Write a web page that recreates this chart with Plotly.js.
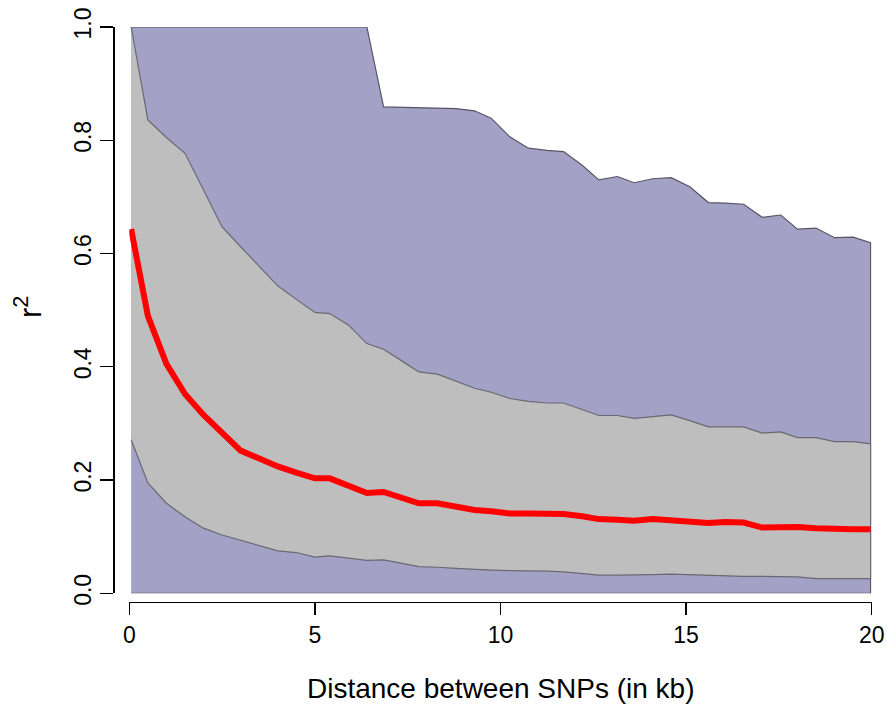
<!DOCTYPE html>
<html>
<head>
<meta charset="utf-8">
<script src="https://cdn.plot.ly/plotly-3.0.1.min.js"></script>
<style>html,body{margin:0;padding:0;background:#fff;}#chart{width:887px;height:707px;}</style>
</head>
<body>
<div id="chart"></div>
<script>
// Distance between SNPs (kb)
const distanceKb = [0.05, 0.5, 1.0, 1.5, 2.0, 2.5, 3.0, 3.5, 4.0, 4.5, 5.0, 5.4, 5.9, 6.4, 6.85, 7.35, 7.8, 8.3, 8.8, 9.3, 9.75, 10.25, 10.75, 11.25, 11.7, 12.2, 12.65, 13.15, 13.6, 14.1, 14.6, 15.1, 15.6, 16.05, 16.55, 17.05, 17.55, 18.0, 18.5, 19.0, 19.5, 19.97];
// r^2 envelope: minimum / maximum
const r2Min = [0, 0, 0, 0, 0, 0, 0, 0, 0, 0, 0, 0, 0, 0, 0, 0, 0, 0, 0, 0, 0, 0, 0, 0, 0, 0, 0, 0, 0, 0, 0, 0, 0, 0, 0, 0, 0, 0, 0, 0, 0, 0];
const r2Max = [1.0, 1.0, 1.0, 1.0, 1.0, 1.0, 1.0, 1.0, 1.0, 1.0, 1.0, 1.0, 1.0, 1.0, 0.859, 0.858, 0.858, 0.857, 0.856, 0.852, 0.839, 0.806, 0.786, 0.782, 0.780, 0.756, 0.730, 0.736, 0.725, 0.732, 0.734, 0.718, 0.690, 0.689, 0.687, 0.664, 0.668, 0.643, 0.645, 0.628, 0.629, 0.619];
// r^2 inner band: lower / upper quantile
const r2Low = [0.271, 0.195, 0.159, 0.135, 0.115, 0.103, 0.093, 0.084, 0.075, 0.072, 0.064, 0.066, 0.062, 0.058, 0.059, 0.053, 0.047, 0.046, 0.044, 0.042, 0.041, 0.040, 0.039, 0.039, 0.038, 0.035, 0.032, 0.032, 0.032, 0.033, 0.034, 0.032, 0.031, 0.031, 0.030, 0.030, 0.030, 0.029, 0.026, 0.026, 0.026, 0.026];
const r2High = [1.0, 0.836, 0.805, 0.777, 0.712, 0.647, 0.612, 0.577, 0.543, 0.519, 0.496, 0.494, 0.474, 0.441, 0.431, 0.410, 0.391, 0.387, 0.375, 0.362, 0.355, 0.344, 0.339, 0.336, 0.336, 0.325, 0.314, 0.314, 0.309, 0.312, 0.315, 0.305, 0.294, 0.294, 0.294, 0.283, 0.285, 0.275, 0.275, 0.268, 0.268, 0.264];
// median r^2
const r2Median = [0.643, 0.490, 0.405, 0.352, 0.315, 0.285, 0.252, 0.238, 0.224, 0.213, 0.203, 0.203, 0.191, 0.177, 0.179, 0.169, 0.159, 0.159, 0.152, 0.147, 0.145, 0.141, 0.141, 0.141, 0.140, 0.136, 0.131, 0.130, 0.128, 0.131, 0.128, 0.127, 0.124, 0.126, 0.125, 0.116, 0.117, 0.117, 0.115, 0.113, 0.113, 0.113];

const xTicks = [0, 5, 10, 15, 20];
const yTicks = [0, 0.2, 0.4, 0.6, 0.8, 1.0];
const yTickText = ["0.0", "0.2", "0.4", "0.6", "0.8", "1.0"];

function band(lo, hi) {
  const xs = distanceKb.concat(distanceKb.slice().reverse());
  const ys = hi.concat(lo.slice().reverse());
  return {xs: xs, ys: ys};
}
const outer = band(r2Min, r2Max);
const inner = band(r2Low, r2High);

const traces = [
  {x: outer.xs, y: outer.ys, type: 'scatter', mode: 'lines', fill: 'toself',
   fillcolor: 'rgb(163,162,198)', line: {color: 'rgb(85,85,100)', width: 1.2}, hoverinfo: 'skip'},
  {x: inner.xs, y: inner.ys, type: 'scatter', mode: 'lines', fill: 'toself',
   fillcolor: 'rgb(190,190,190)', line: {color: 'rgb(105,105,115)', width: 1.2}, hoverinfo: 'skip'},
  {x: distanceKb, y: r2Median, type: 'scatter', mode: 'lines',
   line: {color: '#ff0000', width: 6}, hoverinfo: 'skip'}
];

const fontFam = 'Liberation Sans, Arial, Helvetica, sans-serif';
const layout = {
  width: 887, height: 707,
  margin: {l: 0, r: 0, t: 0, b: 0, pad: 0},
  paper_bgcolor: '#ffffff', plot_bgcolor: 'rgba(0,0,0,0)',
  showlegend: false,
  font: {family: fontFam, color: '#000', size: 23},
  xaxis: {
    domain: [129.3/887, 871.7/887], range: [0, 20],
    anchor: 'free', position: 105.3/707,
    showline: true, linecolor: '#000', linewidth: 1.3,
    ticks: 'outside', ticklen: 12, tickwidth: 1.3, tickcolor: '#000',
    tickvals: xTicks, showgrid: false, zeroline: false,
    tickfont: {family: fontFam, size: 23, color: '#000'}
  },
  yaxis: {
    domain: [113.7/707, 680/707], range: [0, 1],
    anchor: 'free', position: 113.3/887,
    showline: true, linecolor: '#000', linewidth: 1.3,
    ticks: 'outside', ticklen: 13, tickwidth: 1.3, tickcolor: '#000',
    tickvals: yTicks, ticktext: yTickText, tickangle: -90,
    showgrid: false, zeroline: false,
    tickfont: {family: fontFam, size: 23, color: '#000'}
  },
  annotations: [
    {text: 'Distance between SNPs (in kb)', xref: 'paper', yref: 'paper',
     x: 500.5/887, y: (707-688)/707, xanchor: 'center', yanchor: 'middle',
     showarrow: false, font: {family: fontFam, size: 28, color: '#000'}},
    {text: 'r<sup>2</sup>', xref: 'paper', yref: 'paper',
     x: 28/887, y: (707-307)/707, xanchor: 'center', yanchor: 'middle', textangle: -90,
     showarrow: false, font: {family: fontFam, size: 31, color: '#000'}}
  ]
};

Plotly.newPlot('chart', traces, layout, {staticPlot: true, displayModeBar: false});
</script>
</body>
</html>
